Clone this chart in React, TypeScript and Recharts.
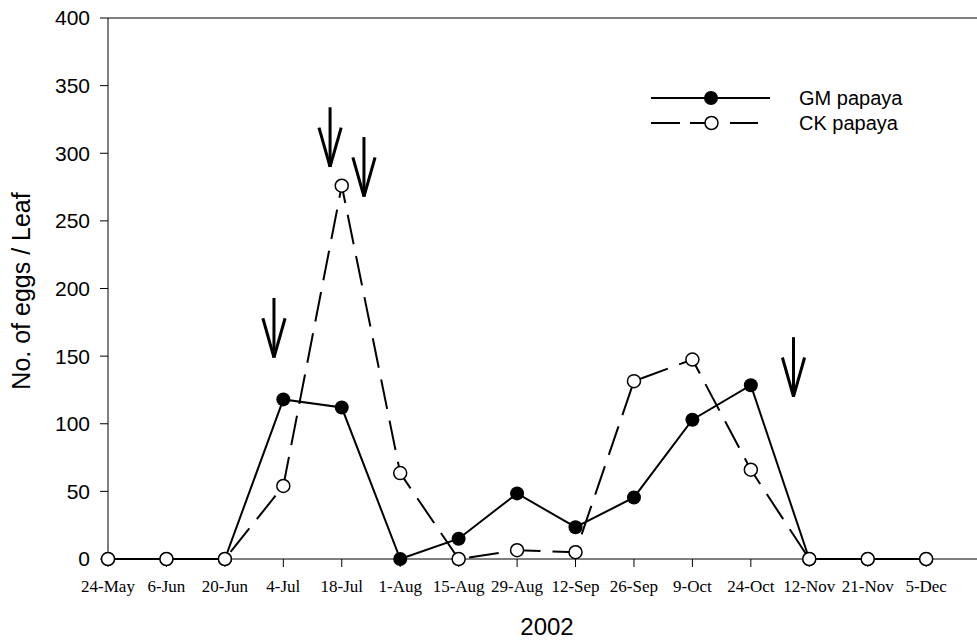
import React from 'react';
import { LineChart, Line, XAxis, YAxis, ReferenceLine } from 'recharts';

const dates = ['24-May', '6-Jun', '20-Jun', '4-Jul', '18-Jul', '1-Aug', '15-Aug', '29-Aug', '12-Sep', '26-Sep', '9-Oct', '24-Oct', '12-Nov', '21-Nov', '5-Dec'];
const gmPapaya = [0, 0, 0, 118, 112, 0, 15, 48.5, 23.5, 45.5, 103, 128.5, 0, 0, 0];
const ckPapaya = [0, 0, 0, 54, 276, 63.5, 0, 6.5, 5, 131.5, 147.5, 66, 0, 0, 0];
const yTicks = [0, 50, 100, 150, 200, 250, 300, 350, 400];
// arrows: x in category-index units, y in eggs/leaf
const arrowX = [2.84, 3.8, 4.38, 11.73];
const arrowTop = [193, 334, 312, 164];
const arrowTip = [149, 290, 268, 120];

const data = dates.map((d, i) => ({ i, date: d, gm: gmPapaya[i], ck: ckPapaya[i] }));

const SANS = '"Liberation Sans", Arial, sans-serif';
const SERIF = '"Liberation Serif", "Times New Roman", serif';

const HEAD_DX = 0.19;
const HEAD_DY = 29;

const LegendBox = () => (
  <svg width={320} height={60} style={{ display: 'block' }}>
    <line x1={11} y1={18} x2={130} y2={18} stroke="#000" strokeWidth={2} />
    <circle cx={71} cy={18} r={7} fill="#000" />
    <text x={159} y={18} dominantBaseline="central" fontFamily={SANS} fontSize={20} fill="#000">GM papaya</text>
    <line x1={11} y1={43} x2={40} y2={43} stroke="#000" strokeWidth={2} />
    <line x1={50} y1={43} x2={65} y2={43} stroke="#000" strokeWidth={2} />
    <line x1={90} y1={43} x2={118} y2={43} stroke="#000" strokeWidth={2} />
    <circle cx={71.5} cy={43} r={6.5} fill="#fff" stroke="#000" strokeWidth={1.5} />
    <text x={159} y={43} dominantBaseline="central" fontFamily={SANS} fontSize={20} fill="#000">CK papaya</text>
  </svg>
);

export default function App() {
  return (
    <div style={{ position: 'relative', width: 977, height: 640 }}>
      <style>{'body{margin:0}'}</style>
      <LineChart width={977} height={640} data={data} margin={{ top: 18, right: 0, bottom: 0, left: 0 }}>
        <XAxis
          type="number"
          dataKey="i"
          domain={[0, 14.87]}
          ticks={dates.map((_, i) => i)}
          tickFormatter={(v: number) => dates[v] ?? ''}
          interval={0}
          height={81}
          tickSize={8}
          tickMargin={13}
          axisLine={{ stroke: '#000', strokeWidth: 1 }}
          tickLine={{ stroke: '#000', strokeWidth: 1 }}
          tick={{ fill: '#000', fontFamily: SERIF, fontSize: 17 }}
          label={{
            content: () => (
              <text x={547} y={635} textAnchor="middle" fontFamily={SANS} fontSize={24} fill="#000">2002</text>
            ),
          }}
        />
        <YAxis
          type="number"
          domain={[0, 400]}
          ticks={yTicks}
          width={108}
          tickSize={8}
          tickMargin={10}
          interval={0}
          axisLine={{ stroke: '#000', strokeWidth: 1 }}
          tickLine={{ stroke: '#000', strokeWidth: 1 }}
          tick={{ fill: '#000', fontFamily: SANS, fontSize: 21 }}
          label={{
            content: () => (
              <text x={21} y={291} transform="rotate(-90 21 291)" textAnchor="middle" dominantBaseline="central" fontFamily={SANS} fontSize={25} fill="#000">No. of eggs / Leaf</text>
            ),
          }}
        />
        <ReferenceLine y={400} stroke="#000" strokeWidth={1} />
        {arrowX.map((x, k) => (
          <ReferenceLine key={`s${k}`} segment={[{ x, y: arrowTop[k] }, { x, y: arrowTip[k] }]} stroke="#000" strokeWidth={3} />
        ))}
        {arrowX.map((x, k) => (
          <ReferenceLine key={`l${k}`} segment={[{ x: x - HEAD_DX, y: arrowTip[k] + HEAD_DY }, { x, y: arrowTip[k] }]} stroke="#000" strokeWidth={3} />
        ))}
        {arrowX.map((x, k) => (
          <ReferenceLine key={`r${k}`} segment={[{ x: x + HEAD_DX, y: arrowTip[k] + HEAD_DY }, { x, y: arrowTip[k] }]} stroke="#000" strokeWidth={3} />
        ))}
        <Line
          dataKey="gm"
          name="GM papaya"
          stroke="#000"
          strokeWidth={2}
          isAnimationActive={false}
          dot={{ r: 7, fill: '#000', stroke: '#000', strokeWidth: 0 }}
          activeDot={false}
        />
        <Line
          dataKey="ck"
          name="CK papaya"
          stroke="#000"
          strokeWidth={2}
          strokeDasharray="30 12"
          isAnimationActive={false}
          dot={{ r: 6.5, fill: '#fff', stroke: '#000', strokeWidth: 1.5, strokeDasharray: '0' }}
          activeDot={false}
        />
      </LineChart>
      <div style={{ position: 'absolute', left: 640, top: 80 }}>
        <LegendBox />
      </div>
    </div>
  );
}
